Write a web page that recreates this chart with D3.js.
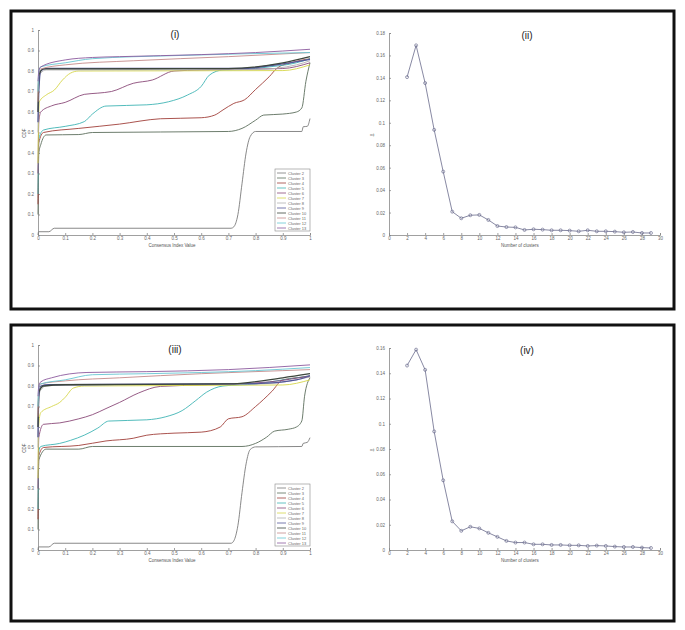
<!DOCTYPE html>
<html>
<head>
<meta charset="utf-8">
<script src="https://cdnjs.cloudflare.com/ajax/libs/d3/7.8.5/d3.min.js"></script>
<style>
  body { margin: 0; background: #fff; }
  svg { display: block; font-family: 'Liberation Sans', Arial, sans-serif; }
</style>
</head>
<body>
<svg id="chart"></svg>
<script>
// Legend labels and line colours for the CDF panels
const clusterNames = ['Cluster 2', 'Cluster 3', 'Cluster 4', 'Cluster 5', 'Cluster 6', 'Cluster 7',
  'Cluster 8', 'Cluster 9', 'Cluster 10', 'Cluster 11', 'Cluster 12', 'Cluster 13'];
const clusterColors = ['#7a7a7a', '#5c6e5c', '#a0403a', '#40b4b4', '#8a4a78', '#d6d64a',
  '#b0b0b0', '#55589a', '#3c463c', '#c48a8a', '#66c6d2', '#8c5a9e'];

// CDF curves, panel (i): [consensus index, CDF]
const cdfTop = [
  [[0,0],[0.002,0.016],[0.04,0.016],[0.06,0.033],[0.71,0.033],[0.72,0.04],[0.735,0.1],[0.75,0.25],[0.765,0.4],[0.78,0.48],[0.8,0.505],[0.97,0.505],[0.975,0.528],[0.99,0.53],[1,0.568]],
  [[0,0.1],[0.003,0.4],[0.01,0.44],[0.03,0.488],[0.15,0.49],[0.2,0.5],[0.7,0.505],[0.75,0.52],[0.8,0.56],[0.83,0.585],[0.9,0.59],[0.95,0.6],[0.97,0.62],[0.985,0.75],[1,0.84]],
  [[0,0.15],[0.003,0.45],[0.02,0.5],[0.15,0.52],[0.3,0.541],[0.45,0.567],[0.6,0.572],[0.65,0.585],[0.68,0.61],[0.72,0.642],[0.76,0.66],[0.8,0.71],[0.85,0.772],[0.88,0.815],[0.93,0.84],[1,0.86]],
  [[0,0.2],[0.003,0.47],[0.02,0.512],[0.1,0.53],[0.17,0.553],[0.2,0.59],[0.25,0.629],[0.4,0.635],[0.48,0.65],[0.55,0.683],[0.6,0.725],[0.63,0.78],[0.68,0.805],[0.75,0.807],[0.85,0.82],[0.95,0.84],[1,0.86]],
  [[0,0.3],[0.003,0.55],[0.01,0.6],[0.05,0.63],[0.1,0.647],[0.17,0.686],[0.22,0.692],[0.27,0.7],[0.35,0.74],[0.42,0.756],[0.5,0.8],[0.6,0.805],[0.9,0.812],[1,0.84]],
  [[0,0.35],[0.002,0.55],[0.005,0.65],[0.03,0.683],[0.06,0.707],[0.09,0.756],[0.12,0.79],[0.15,0.8],[0.9,0.802],[1,0.83]],
  [[0,0.5],[0.003,0.76],[0.01,0.79],[0.03,0.805],[0.8,0.807],[0.95,0.83],[1,0.85]],
  [[0,0.55],[0.003,0.7],[0.01,0.8],[0.03,0.813],[0.75,0.813],[0.9,0.835],[1,0.857]],
  [[0,0.6],[0.003,0.78],[0.02,0.81],[0.7,0.812],[0.9,0.84],[1,0.87]],
  [[0,0.65],[0.003,0.8],[0.01,0.81],[0.1,0.83],[0.35,0.85],[0.7,0.87],[1,0.89]],
  [[0,0.7],[0.003,0.8],[0.01,0.82],[0.1,0.84],[0.2,0.86],[0.5,0.875],[1,0.89]],
  [[0,0.75],[0.003,0.8],[0.01,0.82],[0.1,0.854],[0.2,0.866],[0.3,0.87],[0.6,0.88],[0.8,0.89],[1,0.906]]
];

// CDF curves, panel (iii)
const cdfBottom = [
  [[0,0],[0.002,0.015],[0.04,0.015],[0.06,0.033],[0.71,0.033],[0.72,0.045],[0.735,0.12],[0.75,0.28],[0.765,0.42],[0.78,0.49],[0.8,0.503],[0.97,0.505],[0.975,0.52],[0.99,0.525],[1,0.548]],
  [[0,0.1],[0.003,0.44],[0.03,0.492],[0.15,0.492],[0.2,0.505],[0.75,0.505],[0.8,0.52],[0.84,0.55],[0.87,0.58],[0.92,0.589],[0.95,0.6],[0.97,0.63],[0.98,0.75],[1,0.84]],
  [[0,0.15],[0.003,0.46],[0.02,0.5],[0.15,0.51],[0.25,0.532],[0.35,0.545],[0.4,0.56],[0.5,0.57],[0.6,0.575],[0.67,0.6],[0.7,0.64],[0.75,0.65],[0.8,0.7],[0.86,0.774],[0.9,0.83],[1,0.845]],
  [[0,0.2],[0.003,0.48],[0.01,0.505],[0.08,0.52],[0.12,0.535],[0.17,0.56],[0.22,0.595],[0.26,0.629],[0.4,0.635],[0.47,0.65],[0.53,0.68],[0.58,0.729],[0.62,0.77],[0.68,0.8],[0.8,0.81],[0.9,0.83],[1,0.85]],
  [[0,0.3],[0.003,0.55],[0.02,0.613],[0.08,0.62],[0.15,0.64],[0.2,0.66],[0.25,0.69],[0.3,0.72],[0.37,0.766],[0.45,0.798],[0.6,0.805],[0.85,0.82],[1,0.85]],
  [[0,0.35],[0.002,0.6],[0.01,0.67],[0.05,0.7],[0.08,0.72],[0.1,0.745],[0.13,0.79],[0.17,0.8],[0.9,0.805],[1,0.83]],
  [[0,0.5],[0.003,0.75],[0.01,0.78],[0.03,0.8],[0.1,0.805],[0.8,0.81],[0.95,0.83],[1,0.845]],
  [[0,0.55],[0.003,0.75],[0.01,0.8],[0.04,0.806],[0.8,0.812],[0.95,0.83],[1,0.85]],
  [[0,0.6],[0.003,0.77],[0.02,0.8],[0.1,0.806],[0.7,0.81],[0.9,0.84],[1,0.86]],
  [[0,0.65],[0.003,0.8],[0.01,0.81],[0.1,0.825],[0.3,0.84],[0.6,0.86],[0.9,0.875],[1,0.88]],
  [[0,0.7],[0.003,0.8],[0.01,0.81],[0.1,0.83],[0.2,0.855],[0.4,0.86],[0.8,0.875],[1,0.89]],
  [[0,0.75],[0.003,0.8],[0.01,0.82],[0.05,0.84],[0.18,0.866],[0.4,0.87],[0.7,0.88],[1,0.903]]
];

// Delta area panels
const clusterK = d3.range(2, 30);
const deltaTop = [0.1407, 0.169, 0.1354, 0.0937, 0.0565, 0.0208, 0.0149, 0.0176, 0.0179, 0.0134,
  0.008, 0.0071, 0.0068, 0.0045, 0.0051, 0.0048, 0.0042, 0.0042, 0.0039, 0.0033,
  0.0042, 0.0033, 0.0033, 0.003, 0.0024, 0.0027, 0.0018, 0.0018];
const deltaBottom = [0.1461, 0.1587, 0.1427, 0.0939, 0.0552, 0.0227, 0.0152, 0.0184, 0.0171, 0.0136,
  0.0104, 0.0072, 0.0059, 0.0059, 0.0045, 0.0045, 0.004, 0.004, 0.0037, 0.0037,
  0.0032, 0.0035, 0.0032, 0.0027, 0.0024, 0.0024, 0.0019, 0.0016];

const cdfTicks = d3.range(0, 11).map(d => d / 10);
const kTicks = d3.range(0, 31, 2);

const width = 685, height = 630;
const svg = d3.select('#chart').attr('width', width).attr('height', height);

// Outer frames
[[11, 11, 663, 298], [11, 325, 663, 296]].forEach(([x, y, w, h]) => {
  svg.append('rect').attr('x', x).attr('y', y).attr('width', w).attr('height', h)
    .attr('fill', 'none').attr('stroke', '#111').attr('stroke-width', 3);
});

const fmt = d => (d === 0 || d === 1) ? String(d) : String(+d.toFixed(2));

function styleAxis(g) {
  g.selectAll('.domain').attr('stroke', '#888').attr('stroke-width', 0.8);
  g.selectAll('.tick line').attr('stroke', '#888').attr('stroke-width', 0.8);
  g.selectAll('.tick text').attr('fill', '#666').style('font-size', '4.5px');
}

function drawAxes(x, y, xTicks, yTicks) {
  const gx = svg.append('g')
    .attr('transform', `translate(0,${y.range()[0]})`)
    .call(d3.axisBottom(x).tickValues(xTicks).tickSize(-2).tickPadding(2).tickFormat(fmt));
  styleAxis(gx);
  const gy = svg.append('g')
    .attr('transform', `translate(${x.range()[0]},0)`)
    .call(d3.axisLeft(y).tickValues(yTicks).tickSize(-2).tickPadding(4).tickFormat(fmt));
  styleAxis(gy);
}

function drawCdf(curves, top, title) {
  const x = d3.scaleLinear().domain([0, 1]).range([38, 310]);
  const y = d3.scaleLinear().domain([0, 1]).range([top + 205, top]);
  drawAxes(x, y, cdfTicks, cdfTicks);

  const line = d3.line().x(d => x(d[0])).y(d => y(d[1])).curve(d3.curveMonotoneX);
  svg.append('g').selectAll('path')
    .data(curves)
    .join('path')
    .attr('d', line)
    .attr('fill', 'none')
    .attr('stroke', (d, i) => clusterColors[i])
    .attr('stroke-width', (d, i) => i === 7 || i === 8 ? 1.3 : 0.9);

  svg.append('text').attr('x', 175).attr('y', top + 8)
    .attr('text-anchor', 'middle').style('font-size', '10px').attr('fill', '#222').text(title);
  svg.append('text').attr('x', 172).attr('y', top + 217)
    .attr('text-anchor', 'middle').style('font-size', '4.5px').attr('fill', '#555')
    .text('Consensus Index Value');
  svg.append('text').attr('transform', `translate(26,${top + 103}) rotate(-90)`)
    .attr('text-anchor', 'middle').style('font-size', '4.5px').attr('fill', '#555').text('CDF');

  // Legend
  const lg = svg.append('g').attr('transform', `translate(275,${top + 139})`);
  lg.append('rect').attr('width', 35).attr('height', 62)
    .attr('fill', '#fff').attr('stroke', '#888').attr('stroke-width', 0.6);
  clusterNames.forEach((name, i) => {
    const ry = 4 + i * 5;
    lg.append('line').attr('x1', 2).attr('x2', 11).attr('y1', ry).attr('y2', ry)
      .attr('stroke', clusterColors[i]).attr('stroke-width', 0.8);
    lg.append('text').attr('x', 13).attr('y', ry + 1.5)
      .style('font-size', '4px').attr('fill', '#666').text(name);
  });
}

function drawDelta(values, top, yMax, title) {
  const x = d3.scaleLinear().domain([0, 30]).range([389, 660]);
  const y = d3.scaleLinear().domain([0, yMax]).range([top + 202, top]);
  drawAxes(x, y, kTicks, d3.range(0, yMax + 0.001, 0.02));

  const pts = clusterK.map((k, i) => [k, values[i]]);
  svg.append('path').datum(pts)
    .attr('d', d3.line().x(d => x(d[0])).y(d => y(d[1])))
    .attr('fill', 'none').attr('stroke', '#7a7c98').attr('stroke-width', 0.9);
  svg.append('g').selectAll('circle').data(pts).join('circle')
    .attr('cx', d => x(d[0])).attr('cy', d => y(d[1])).attr('r', 1.5)
    .attr('fill', 'none').attr('stroke', '#6e7090').attr('stroke-width', 0.7);

  svg.append('text').attr('x', 527).attr('y', top + 6)
    .attr('text-anchor', 'middle').style('font-size', '10px').attr('fill', '#222').text(title);
  svg.append('text').attr('x', 520).attr('y', top + 214)
    .attr('text-anchor', 'middle').style('font-size', '4.5px').attr('fill', '#555')
    .text('Number of clusters');
  svg.append('text').attr('transform', `translate(374,${top + 102}) rotate(-90)`)
    .attr('text-anchor', 'middle').style('font-size', '4.5px').attr('fill', '#555').text('Δ');
}

drawCdf(cdfTop, 30, '(i)');
drawCdf(cdfBottom, 345, '(iii)');
drawDelta(deltaTop, 33, 0.18, '(ii)');
drawDelta(deltaBottom, 348, 0.16, '(iv)');
</script>
</body>
</html>
